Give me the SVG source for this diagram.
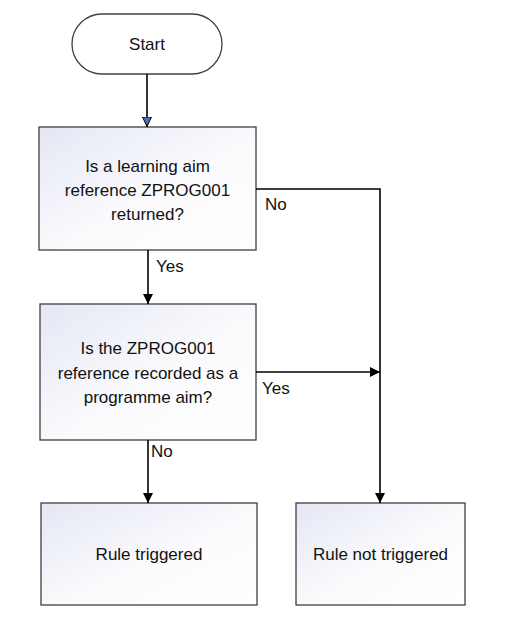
<svg xmlns="http://www.w3.org/2000/svg" width="508" height="619" viewBox="0 0 508 619">
<style>
.box{stroke:#404040;stroke-width:1.3;fill:url(#g)}
.t{font-family:"Liberation Sans",Arial,sans-serif;font-size:17px;fill:#111;text-anchor:middle}
.l{font-family:"Liberation Sans",Arial,sans-serif;font-size:17px;fill:#111}
.c{stroke:#000;stroke-width:1.6;fill:none}
</style>
<defs>
<linearGradient id="g" x1="0" y1="0" x2="1" y2="1">
<stop offset="0" stop-color="#e4e7f4"/>
<stop offset="0.55" stop-color="#fbfbfd"/>
<stop offset="1" stop-color="#ffffff"/>
</linearGradient>
<marker id="a" viewBox="0 0 10 10" refX="10" refY="5" markerWidth="10" markerHeight="10" markerUnits="userSpaceOnUse" orient="auto">
<path d="M0,0 L10,5 L0,10 z" fill="#000"/>
</marker>
<marker id="b" viewBox="0 0 10 10" refX="10" refY="5" markerWidth="10" markerHeight="10" markerUnits="userSpaceOnUse" orient="auto">
<path d="M0,0.5 L9.5,5 L0,9.5 z" fill="#4a72b8" stroke="#000" stroke-width="1"/>
</marker>
</defs>
<g id="start">
<rect x="72" y="14" width="150" height="60" rx="30" ry="30" fill="#fff" stroke="#404040" stroke-width="1.3"/>
<text class="t" x="147" y="50">Start</text>
</g>
<g id="q1">
<rect class="box" x="39" y="127" width="217" height="123"/>
<text class="t" x="147.5" y="172">Is a learning aim</text>
<text class="t" x="147.5" y="196">reference ZPROG001</text>
<text class="t" x="147.5" y="220">returned?</text>
</g>
<g id="q2">
<rect class="box" x="40" y="304" width="216" height="136"/>
<text class="t" x="148" y="354">Is the ZPROG001</text>
<text class="t" x="148" y="378.5">reference recorded as a</text>
<text class="t" x="148" y="403">programme aim?</text>
</g>
<g id="r1">
<rect class="box" x="41" y="503" width="216" height="102"/>
<text class="t" x="149" y="559.5">Rule triggered</text>
</g>
<g id="r2">
<rect class="box" x="296" y="503" width="169" height="102"/>
<text class="t" x="380.5" y="559.5">Rule not triggered</text>
</g>
<g id="connectors">
<path class="c" d="M147,74 V127" marker-end="url(#b)"/>
<path class="c" d="M256,189 H380 V503" marker-end="url(#a)"/>
<path class="c" d="M148,250 V304" marker-end="url(#a)"/>
<path class="c" d="M256,372 H380" marker-end="url(#a)"/>
<path class="c" d="M148,440 V503" marker-end="url(#a)"/>
<text class="l" x="265" y="210">No</text>
<text class="l" x="156" y="272">Yes</text>
<text class="l" x="262" y="394">Yes</text>
<text class="l" x="151" y="457">No</text>
</g>
</svg>
